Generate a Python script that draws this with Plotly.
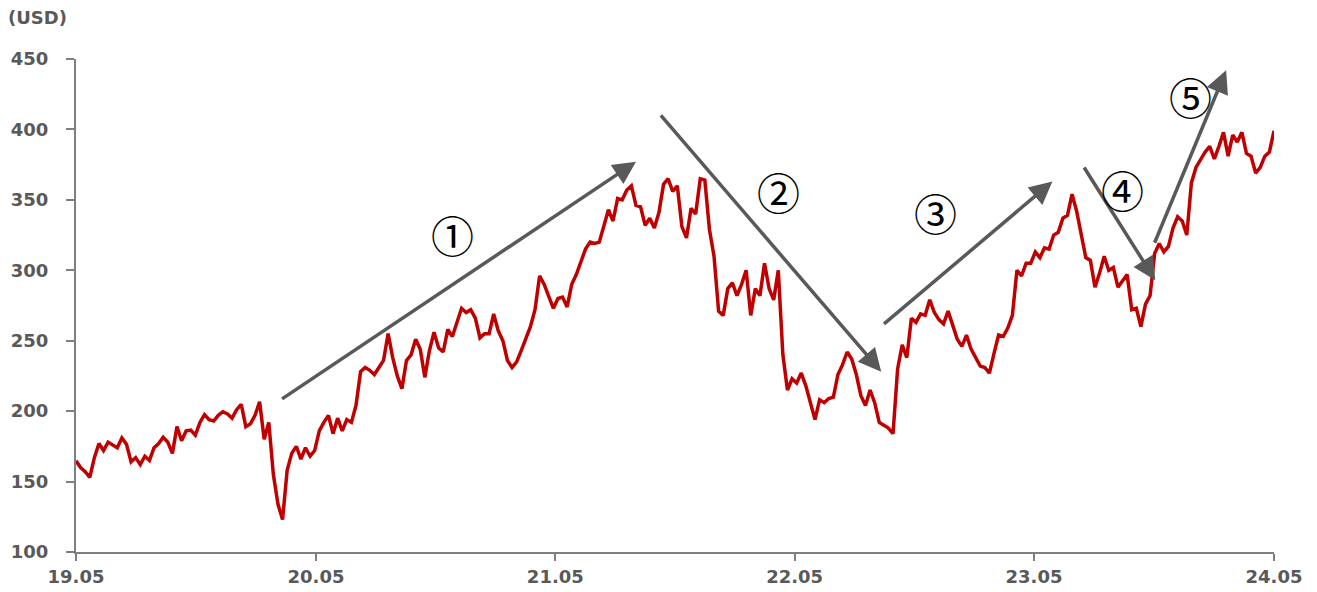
import pandas as pd
import plotly.graph_objects as go

# Weekly closing prices (USD), starting 2019-05-01
start_date = "2019-05-01"
prices = [
    164.7, 160, 157, 153, 167, 177, 172, 178, 176, 174,
    181, 176.5, 164, 167, 162, 168, 165, 174, 177, 181.5,
    178, 170, 189, 179, 186, 186.5, 183, 192, 197.5, 194,
    193, 197, 199.6, 198, 195, 201, 204.8, 189, 191, 197,
    206.7, 180, 192, 155, 134, 123, 158, 170, 175, 166,
    174, 168, 172, 186, 192, 197, 184, 195, 186, 194,
    192, 204, 228, 231, 229, 226, 231, 236, 255, 238,
    225, 216, 236, 240, 251, 244, 224, 243, 256, 245,
    242, 258, 253, 264, 273, 270, 272, 266, 252, 255,
    255, 269, 257, 250, 236, 231, 235, 243, 252, 260,
    272, 296, 290, 281, 273, 280, 281, 274, 290, 297,
    306, 315, 320, 319, 320, 331, 343, 335, 351, 350,
    357, 360, 346, 345, 332, 337, 330, 341, 361, 365,
    356, 360, 331, 323, 344, 340, 365, 364, 329, 310,
    271, 268, 287, 291, 282, 290, 300, 268, 287, 282,
    305, 287, 279, 300, 240, 215, 223, 220, 227, 218,
    205, 194, 208, 206, 209, 210, 226, 233, 242, 237,
    226, 211, 204, 215, 206, 192, 190, 188, 184, 230,
    247, 238, 266, 263, 269, 268, 279, 270, 265, 262,
    271, 261, 251, 246, 254, 244, 238, 232, 231, 227,
    241, 254, 253, 259, 268, 300, 296, 305, 305, 313,
    309, 316, 315, 325, 327, 337, 339, 354, 342, 326,
    309, 307, 288, 298, 310, 300, 302, 288, 293, 297,
    272, 273, 260, 276, 282, 312, 319, 313, 317, 330,
    338, 335, 325, 362, 373, 379, 384, 388, 379, 388,
    398, 381, 396, 391, 398, 383, 381, 369, 373, 381,
    384, 399,
]
dates = pd.date_range(start_date, periods=len(prices), freq="7D")

# Trend-phase arrows: (label, tail date, tail value, head date, head value)
phase_labels = ["①", "②", "③", "④", "⑤"]
arrow_tail_dates = ["2020-03-08", "2021-10-07", "2022-09-12", "2023-07-15", "2023-10-31"]
arrow_tail_values = [208, 411, 261, 374, 318.5]
arrow_head_dates = ["2021-09-01", "2022-09-10", "2023-05-29", "2023-11-02", "2024-02-18"]
arrow_head_values = [377, 228, 363, 293, 442]
label_dates = ["2020-11-25", "2022-04-07", "2022-12-02", "2023-09-13", "2023-12-25"]
label_values = [326, 356, 341.5, 358, 424]

LINE_RED = "#C00000"
ARROW_GREY = "#595959"
AXIS_GREY = "#7F7F7F"
TEXT_GREY = "#595959"
FONT = "DejaVu Sans"

fig = go.Figure()
fig.add_trace(go.Scatter(
    x=dates, y=prices, mode="lines",
    line=dict(color=LINE_RED, width=3.5),
    hoverinfo="skip", showlegend=False,
))

annotations = []
for td, tv, hd, hv in zip(arrow_tail_dates, arrow_tail_values, arrow_head_dates, arrow_head_values):
    annotations.append(dict(
        x=hd, y=hv, ax=td, ay=tv, xref="x", yref="y", axref="x", ayref="y",
        text="", showarrow=True, arrowhead=2, arrowsize=1.3, arrowwidth=3.5,
        arrowcolor=ARROW_GREY, standoff=0, startstandoff=0,
    ))
for lab, d, v in zip(phase_labels, label_dates, label_values):
    annotations.append(dict(
        x=d, y=v, xref="x", yref="y", text=lab, showarrow=False,
        font=dict(family="Noto Sans CJK KR", size=43, color="#000000"),
        xanchor="center", yanchor="middle",
    ))
annotations.append(dict(
    x=0, y=1, xref="paper", yref="paper", xshift=-70, yshift=54,
    text="(USD)", showarrow=False, xanchor="left", yanchor="top",
    font=dict(family=FONT, size=18, color=TEXT_GREY, weight="bold"),
))

fig.update_layout(
    width=1317, height=592,
    margin=dict(l=76, r=43, t=59, b=40),
    paper_bgcolor="white", plot_bgcolor="white",
    annotations=annotations,
    showlegend=False,
)
fig.update_xaxes(
    type="date", range=["2019-05-01", "2024-05-01"],
    tickformat="%y.%m", dtick="M12", tick0="2019-05-01",
    ticks="outside", ticklen=7, tickwidth=2, tickcolor=AXIS_GREY,
    showline=True, linecolor=AXIS_GREY, linewidth=2,
    showgrid=False, zeroline=False, automargin=False,
    tickfont=dict(family=FONT, size=18, color=TEXT_GREY, weight="bold"),
    ticklabelstandoff=0,
)
fig.update_yaxes(
    range=[100, 450], dtick=50, tick0=100,
    ticks="outside", ticklen=8, tickwidth=2, tickcolor=AXIS_GREY,
    showline=True, linecolor=AXIS_GREY, linewidth=2,
    showgrid=False, zeroline=False, automargin=False,
    tickfont=dict(family=FONT, size=18, color=TEXT_GREY, weight="bold"),
    ticklabelstandoff=14,
)

fig.write_html("out.html")
